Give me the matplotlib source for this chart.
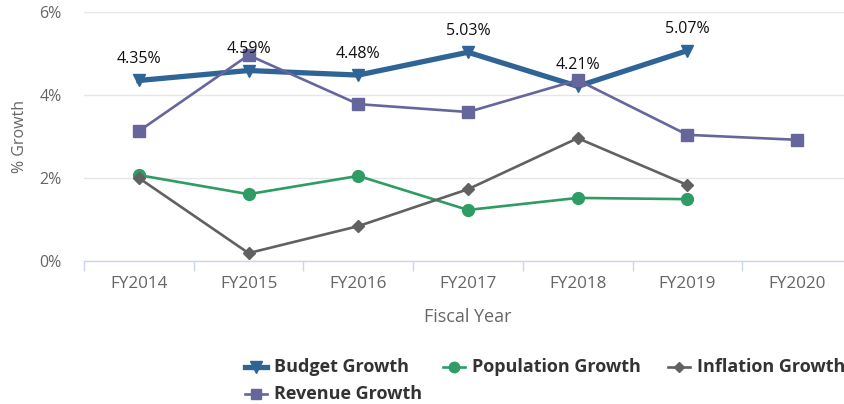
import matplotlib
matplotlib.use("Agg")
import matplotlib.pyplot as plt
from matplotlib.lines import Line2D

plt.rcParams['font.family'] = ['Open Sans', 'DejaVu Sans']

years = ["FY2014", "FY2015", "FY2016", "FY2017", "FY2018", "FY2019", "FY2020"]
budget = [4.35, 4.59, 4.48, 5.03, 4.21, 5.07]
population = [2.07, 1.61, 2.05, 1.23, 1.52, 1.49]
inflation = [2.00, 0.19, 0.84, 1.73, 2.96, 1.83]
revenue = [3.13, 4.96, 3.78, 3.59, 4.36, 3.04, 2.92]
y_ticks = [0, 2, 4, 6]

BUDGET_C = "#2f6497"
POP_C = "#2e9c63"
INFL_C = "#616161"
REV_C = "#67669c"
GRID_C = "#e6e6e6"
AXIS_C = "#ccd6eb"
LABEL_C = "#666666"

fig = plt.figure(figsize=(8.44, 4.04), dpi=100)
W, H = 844, 404
ax = fig.add_axes([84 / W, 1 - 261 / H, (852 - 84) / W, (261 - 12) / H])

ax.plot(range(len(budget)), budget, color=BUDGET_C, lw=3.8, marker="v", ms=9,
        zorder=3, solid_joinstyle="round")
ax.plot(range(len(population)), population, color=POP_C, lw=1.9, marker="o",
        ms=8.5, zorder=4)
ax.plot(range(len(inflation)), inflation, color=INFL_C, lw=1.9, marker="D",
        ms=6, zorder=5)
ax.plot(range(len(revenue)), revenue, color=REV_C, lw=1.9, marker="s",
        ms=8, zorder=6)

for i, v in enumerate(budget):
    ax.annotate(f"{v:.2f}%", (i, v), xytext=(0, 15.5), textcoords="offset points",
                ha="center", va="center", fontsize=11.5, color="#111111", zorder=7)

ax.set_xlim(-0.5, len(years) - 0.5)
ax.set_ylim(0, 6)
ax.set_yticks(y_ticks)
ax.set_yticklabels([f"{t}%" for t in y_ticks])
ax.set_xticks(range(len(years)))
ax.set_xticklabels(years)
ax.set_xticks([i - 0.5 for i in range(len(years) + 1)], minor=True)

ax.yaxis.grid(True, color=GRID_C, lw=1)
ax.set_axisbelow(True)
for s in ["top", "right", "left"]:
    ax.spines[s].set_visible(False)
ax.spines["bottom"].set_color(AXIS_C)
ax.spines["bottom"].set_linewidth(1)

ax.tick_params(axis="y", length=0, pad=16, labelsize=11.5, labelcolor=LABEL_C)
ax.tick_params(axis="x", which="major", length=0, pad=11, labelsize=12.3,
               labelcolor=LABEL_C)
ax.tick_params(axis="x", which="minor", length=7, width=1, color=AXIS_C)

ax.set_ylabel("% Growth", fontsize=11.5, color=LABEL_C, labelpad=8)
ax.set_xlabel("Fiscal Year", fontsize=13, color=LABEL_C, labelpad=11)

# legend entries
entries = [
    ("Budget Growth", BUDGET_C, "v", 3.8, 8, 245, 367),
    ("Population Growth", POP_C, "o", 1.9, 7.5, 443, 367),
    ("Inflation Growth", INFL_C, "D", 1.9, 5, 668, 367),
    ("Revenue Growth", REV_C, "s", 1.9, 7, 245, 394),
]
for name, c, m, lw, ms, x0, y0 in entries:
    fy = 1 - y0 / H
    fig.add_artist(Line2D([x0 / W, (x0 + 22) / W], [fy, fy], color=c, lw=lw,
                          transform=fig.transFigure))
    fig.add_artist(Line2D([(x0 + 11) / W], [fy], color=c, marker=m, ms=ms,
                          transform=fig.transFigure))
    fig.text((x0 + 29) / W, fy, name, fontsize=13, fontweight="bold",
             color="#333333", ha="left", va="center")

fig.savefig("out.png", dpi=100)
